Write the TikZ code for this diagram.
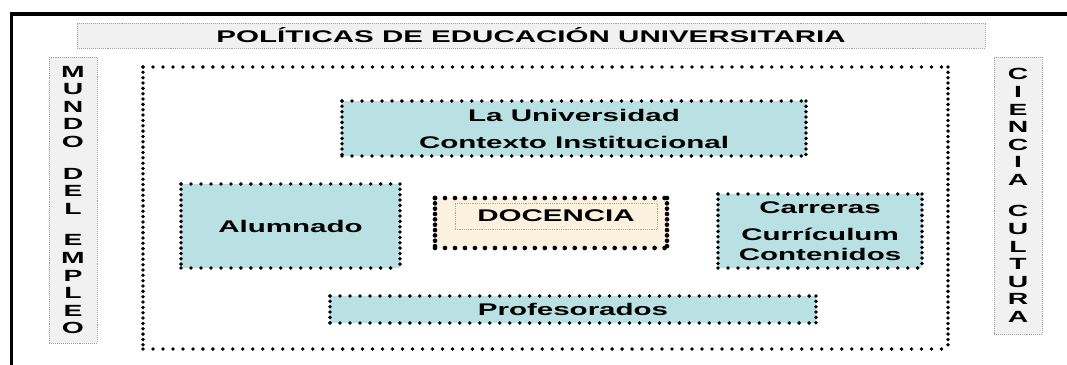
\documentclass[tikz,border=0pt]{standalone}
\usepackage{fontspec}
\newfontfamily\boxfont{Liberation Sans}[FakeStretch=1.75]
\definecolor{tealbox}{RGB}{185,224,227}
\definecolor{creambox}{RGB}{251,241,222}

% dotted frame: wider dot spacing on the horizontal sides
\newcommand\dotframe[2][]{%
  \draw[hdots,#1] (#2.north west) -- (#2.north east) (#2.south west) -- (#2.south east);
  \draw[vdots,#1] (#2.north west) -- (#2.south west) (#2.north east) -- (#2.south east);}

\begin{document}
\begin{tikzpicture}[
    font=\boxfont\bfseries\fontsize{12}{13.8}\selectfont,
    hdots/.style={line width=2.7pt, line cap=round, dash pattern=on 0pt off 7.1pt},
    vdots/.style={line width=2.7pt, line cap=round, dash pattern=on 0pt off 3.8pt},
    banner/.style={draw=gray!75, densely dotted, line width=0.4pt, fill=gray!11,
                   inner sep=0pt, outer sep=0pt},
    column/.style={banner, align=center, font=\boxfont\bfseries\fontsize{11.5}{12.5}\selectfont},
    block/.style={fill=tealbox, align=center, inner sep=0pt, outer sep=0pt}
  ]
  \useasboundingbox (0,0) rectangle (26.675,-9.125);

  \draw[line width=2.8pt] (0.2875,-9.125) |- (26.675,-0.35);

  \node[banner, minimum width=22.7cm, minimum height=0.625cm] (policy) at (13.275,-0.8875)
    {POLÍTICAS DE EDUCACIÓN UNIVERSITARIA};
  \node[column, minimum width=1.2cm, minimum height=7.15cm] (labour) at (1.825,-5.0)
    {M\\U\\N\\D\\O\\[10pt]D\\E\\L\\[10pt]E\\M\\P\\L\\E\\O};
  \node[column, minimum width=1.2cm, minimum height=6.925cm] (science) at (25.45,-4.8875)
    {C\\I\\E\\N\\C\\I\\A\\[10pt]C\\U\\L\\T\\U\\R\\A};

  \node[minimum width=20.125cm, minimum height=7.05cm, inner sep=0pt, outer sep=0pt]
    (context) at (13.6375,-5.2) {};

  \node[block, minimum width=11.6cm, minimum height=1.375cm] (university) at (14.35,-3.2125)
    {La Universidad\\[5.4pt]Contexto Institucional};
  \node[block, minimum width=5.475cm, minimum height=2.1cm] (students) at (7.2625,-5.65)
    {Alumnado};
  \node[block, fill=creambox, minimum width=5.8cm, minimum height=1.25cm] (teaching)
    at (13.775,-5.575) {};
  \node[draw=gray!70, densely dotted, line width=0.3pt, inner sep=0pt,
        minimum width=5.05cm, minimum height=0.65cm] (teachlabel) at (13.9,-5.4) {DOCENCIA};
  \node[block, minimum width=5.1cm, minimum height=1.85cm] (careers) at (20.5,-5.775)
    {Carreras\\[5.4pt]Currículum\\Contenidos};
  \node[block, minimum width=12.15cm, minimum height=0.675cm] (teachers) at (14.325,-7.7375)
    {Profesorados};

  \dotframe{context}
  \dotframe{university}
  \dotframe{students}
  \dotframe{careers}
  \dotframe{teachers}
  \dotframe[line width=3.3pt]{teaching}
\end{tikzpicture}
\end{document}
